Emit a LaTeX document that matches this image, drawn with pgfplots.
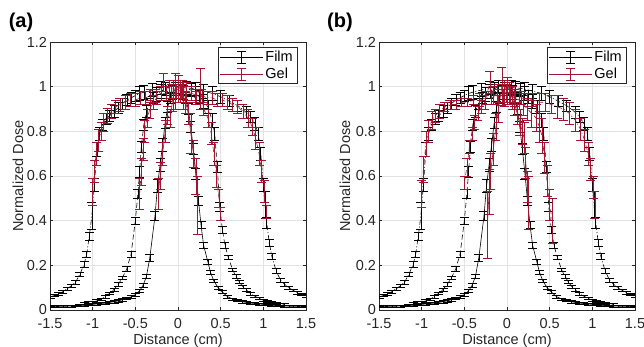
\documentclass[border=0pt]{standalone}
\usepackage{fontspec}
\setmainfont{Liberation Sans}
\usepackage{pgfplots}
\usepackage{pgfplotstable}
\pgfplotsset{compat=1.18}
\definecolor{gelred}{HTML}{A2142F}
\definecolor{axgray}{HTML}{262626}
\definecolor{gridgray}{HTML}{E3E3E3}

\pgfplotstableread{
x y e
-1.50 0.014 0.004
-1.45 0.015 0.004
-1.40 0.016 0.004
-1.35 0.017 0.004
-1.30 0.017 0.004
-1.25 0.018 0.004
-1.20 0.019 0.004
-1.15 0.020 0.004
-1.10 0.021 0.004
-1.05 0.023 0.004
-1.00 0.025 0.005
-0.95 0.027 0.005
-0.90 0.029 0.005
-0.85 0.031 0.005
-0.80 0.034 0.005
-0.75 0.037 0.005
-0.70 0.041 0.005
-0.65 0.046 0.005
-0.60 0.052 0.006
-0.55 0.059 0.006
-0.50 0.069 0.006
-0.45 0.086 0.007
-0.41 0.110 0.008
-0.37 0.150 0.010
-0.33 0.235 0.015
-0.27 0.420 0.020
-0.24 0.555 0.030
-0.21 0.650 0.030
-0.18 0.740 0.030
-0.15 0.840 0.025
-0.12 0.910 0.025
-0.09 0.950 0.025
-0.06 0.975 0.030
-0.03 0.990 0.030
0.00 1.000 0.030
0.03 0.990 0.030
0.06 0.975 0.030
0.09 0.950 0.025
0.12 0.900 0.025
0.15 0.820 0.025
0.18 0.720 0.025
0.21 0.610 0.025
0.24 0.490 0.020
0.27 0.380 0.015
0.30 0.290 0.012
0.35 0.215 0.010
0.38 0.170 0.009
0.42 0.130 0.008
0.47 0.100 0.007
0.52 0.080 0.006
0.58 0.060 0.006
0.64 0.049 0.005
0.70 0.042 0.005
0.75 0.037 0.005
0.80 0.034 0.005
0.85 0.031 0.005
0.90 0.029 0.005
0.95 0.027 0.005
1.00 0.025 0.005
1.05 0.023 0.004
1.10 0.021 0.004
1.15 0.020 0.004
1.20 0.019 0.004
1.25 0.018 0.004
1.30 0.017 0.004
1.35 0.017 0.004
1.40 0.016 0.004
1.45 0.015 0.004
1.50 0.014 0.004
}\FilmSolid

\pgfplotstableread{
x y e
-1.10 0.030 0.005
-1.05 0.033 0.005
-1.00 0.036 0.005
-0.95 0.041 0.005
-0.90 0.048 0.005
-0.85 0.060 0.006
-0.80 0.075 0.006
-0.75 0.092 0.007
-0.70 0.115 0.008
-0.65 0.145 0.008
-0.60 0.185 0.010
-0.55 0.250 0.012
-0.50 0.400 0.015
-0.47 0.520 0.020
-0.45 0.620 0.025
-0.43 0.730 0.025
-0.40 0.830 0.025
-0.37 0.890 0.025
-0.33 0.925 0.025
-0.29 0.950 0.025
-0.25 0.965 0.030
-0.20 0.980 0.030
-0.15 0.990 0.030
-0.10 1.000 0.030
-0.05 1.000 0.030
0.00 1.000 0.030
0.05 0.998 0.030
0.10 0.993 0.030
0.15 0.985 0.030
0.20 0.970 0.030
0.25 0.955 0.030
0.30 0.935 0.030
0.35 0.910 0.030
0.40 0.850 0.030
0.43 0.790 0.030
0.46 0.640 0.025
0.49 0.460 0.020
0.52 0.360 0.015
0.55 0.290 0.012
0.59 0.235 0.010
0.64 0.180 0.008
0.68 0.150 0.008
0.72 0.125 0.007
0.76 0.105 0.007
0.80 0.090 0.006
0.85 0.073 0.006
0.90 0.062 0.005
0.95 0.052 0.005
1.00 0.044 0.005
1.05 0.038 0.005
1.10 0.034 0.005
1.15 0.030 0.005
1.20 0.027 0.005
1.25 0.025 0.005
}\FilmDash

\pgfplotstableread{
x y e
-1.50 0.058 0.005
-1.45 0.065 0.005
-1.40 0.072 0.006
-1.35 0.082 0.006
-1.30 0.095 0.007
-1.25 0.108 0.008
-1.20 0.125 0.009
-1.15 0.160 0.010
-1.10 0.205 0.012
-1.07 0.250 0.015
-1.04 0.330 0.020
-1.01 0.420 0.060
-0.98 0.560 0.030
-0.95 0.720 0.030
-0.92 0.790 0.030
-0.88 0.830 0.025
-0.84 0.855 0.025
-0.80 0.870 0.025
-0.75 0.890 0.025
-0.70 0.905 0.025
-0.65 0.925 0.025
-0.60 0.940 0.025
-0.55 0.950 0.025
-0.50 0.960 0.025
-0.45 0.970 0.030
-0.40 0.975 0.030
-0.30 0.985 0.030
-0.20 0.995 0.030
-0.10 1.000 0.030
0.00 1.000 0.030
0.10 0.995 0.030
0.20 0.990 0.030
0.30 0.980 0.030
0.40 0.970 0.030
0.50 0.955 0.030
0.60 0.935 0.025
0.70 0.915 0.025
0.80 0.885 0.025
0.85 0.865 0.025
0.90 0.835 0.030
0.94 0.790 0.030
0.97 0.700 0.030
1.00 0.560 0.030
1.02 0.470 0.060
1.04 0.390 0.025
1.07 0.300 0.015
1.10 0.240 0.012
1.15 0.175 0.010
1.20 0.135 0.009
1.25 0.115 0.008
1.30 0.100 0.007
1.35 0.088 0.006
1.40 0.078 0.006
1.45 0.070 0.005
1.50 0.064 0.005
}\FilmDD

% ---------- Gel, panel (a)
\pgfplotstableread{
x y e
-0.23 0.52 0.07
-0.21 0.60 0.06
-0.18 0.70 0.05
-0.15 0.80 0.05
-0.12 0.87 0.04
-0.09 0.86 0.04
-0.06 0.95 0.06
-0.03 0.98 0.08
0.00 0.99 0.06
0.03 0.98 0.05
0.06 0.96 0.06
0.09 0.93 0.05
0.12 0.88 0.05
0.15 0.79 0.09
0.18 0.70 0.06
0.21 0.60 0.08
0.23 0.47 0.13
}\GelSolidA

\pgfplotstableread{
x y e
-0.45 0.52 0.07
-0.43 0.62 0.06
-0.41 0.72 0.05
-0.39 0.80 0.05
-0.36 0.86 0.04
-0.33 0.90 0.04
-0.29 0.93 0.03
-0.25 0.95 0.03
-0.20 0.97 0.03
-0.17 1.02 0.04
-0.10 0.99 0.04
-0.05 0.99 0.04
0.00 0.99 0.04
0.05 0.99 0.04
0.10 0.98 0.04
0.15 0.97 0.03
0.20 0.95 0.03
0.26 0.99 0.09
0.30 0.90 0.03
0.35 0.86 0.04
0.39 0.79 0.05
0.42 0.70 0.05
0.45 0.60 0.05
0.48 0.50 0.04
0.50 0.43 0.03
}\GelDashA

\pgfplotstableread{
x y e
-1.00 0.53 0.06
-0.98 0.62 0.05
-0.96 0.70 0.05
-0.93 0.76 0.05
-0.90 0.80 0.04
-0.87 0.84 0.04
-0.83 0.87 0.035
-0.78 0.89 0.03
-0.73 0.91 0.03
-0.68 0.92 0.03
-0.62 0.93 0.03
-0.56 0.94 0.03
-0.50 0.94 0.03
-0.44 0.95 0.03
-0.38 0.95 0.03
-0.32 0.96 0.03
-0.26 0.96 0.03
-0.20 0.97 0.03
-0.14 0.97 0.03
-0.08 0.98 0.03
-0.02 0.98 0.03
0.04 0.98 0.03
0.10 0.97 0.03
0.16 0.97 0.03
0.22 0.96 0.03
0.28 0.96 0.03
0.34 0.95 0.03
0.40 0.95 0.03
0.46 0.94 0.03
0.52 0.94 0.03
0.58 0.93 0.03
0.64 0.92 0.03
0.70 0.91 0.03
0.76 0.89 0.03
0.82 0.86 0.04
0.87 0.82 0.04
0.91 0.77 0.05
0.95 0.70 0.05
0.98 0.62 0.05
1.01 0.53 0.05
1.04 0.44 0.03
}\GelDDA

% ---------- Gel, panel (b)
\pgfplotstableread{
x y e
-0.23 0.38 0.15
-0.21 0.53 0.10
-0.19 0.62 0.08
-0.16 0.72 0.07
-0.13 0.82 0.06
-0.10 0.90 0.06
-0.06 1.00 0.085
-0.03 0.97 0.06
0.00 0.98 0.06
0.03 0.97 0.05
0.06 0.95 0.05
0.09 0.92 0.05
0.12 0.88 0.05
0.15 0.84 0.06
0.18 0.80 0.06
0.20 0.77 0.07
0.22 0.66 0.07
0.24 0.55 0.07
0.25 0.48 0.12
}\GelSolidB

\pgfplotstableread{
x y e
-0.50 0.57 0.03
-0.47 0.64 0.04
-0.44 0.73 0.03
-0.41 0.79 0.03
-0.38 0.84 0.03
-0.34 0.88 0.03
-0.30 0.91 0.03
-0.26 0.93 0.03
-0.20 1.02 0.05
-0.16 0.96 0.04
-0.11 0.97 0.04
-0.06 0.97 0.04
-0.01 0.97 0.04
0.04 0.96 0.04
0.09 0.95 0.04
0.14 0.94 0.04
0.19 0.92 0.05
0.24 0.90 0.05
0.29 0.88 0.06
0.34 0.86 0.06
0.38 0.82 0.07
0.41 0.78 0.08
0.44 0.68 0.07
0.47 0.58 0.07
0.50 0.47 0.07
0.53 0.40 0.10
}\GelDashB

\pgfplotstableread{
x y e
-1.00 0.52 0.06
-0.98 0.63 0.06
-0.95 0.745 0.055
-0.92 0.80 0.05
-0.88 0.85 0.04
-0.84 0.87 0.03
-0.79 0.89 0.03
-0.73 0.91 0.02
-0.67 0.92 0.02
-0.60 0.92 0.02
-0.53 0.93 0.02
-0.46 0.93 0.02
-0.39 0.94 0.02
-0.32 0.94 0.03
-0.25 0.95 0.03
-0.18 0.95 0.03
-0.11 0.96 0.03
-0.04 0.96 0.03
0.03 0.96 0.03
0.10 0.95 0.03
0.17 0.95 0.03
0.24 0.94 0.03
0.31 0.94 0.03
0.38 0.93 0.04
0.45 0.93 0.04
0.52 0.92 0.04
0.59 0.91 0.05
0.66 0.90 0.05
0.73 0.88 0.05
0.80 0.85 0.05
0.86 0.81 0.05
0.91 0.76 0.05
0.95 0.70 0.05
0.98 0.63 0.05
1.01 0.55 0.05
1.03 0.47 0.06
}\GelDDB

\pgfplotsset{
  eb/.style={line width=0.6pt, mark=none,
    error bars/y dir=both, error bars/y explicit,
    error bars/error bar style={line width=0.6pt, solid},
    error bars/error mark options={line width=0.6pt, solid, mark size=4.5pt, rotate=90}},
  film/.style={black, eb},
  gel/.style={gelred, eb},
  dsh/.style={dash pattern=on 5pt off 3pt},
  ddot/.style={dash pattern=on 5pt off 2pt on 1pt off 2pt},
  panel/.style={
    scale only axis, width=256pt, height=268pt,
    xmin=-1.5, xmax=1.5, ymin=0, ymax=1.2,
    xtick={-1.5,-1,-0.5,0,0.5,1,1.5},
    xticklabels={-1.5,-1,-0.5,0,0.5,1,1.5},
    ytick={0,0.2,0.4,0.6,0.8,1,1.2},
    yticklabels={0,0.2,0.4,0.6,0.8,1,1.2},
    tick align=inside, major tick length=3pt,
    tick style={axgray, line width=0.5pt},
    axis line style={axgray, line width=0.6pt},
    grid=major, major grid style={gridgray, line width=0.5pt},
    ticklabel style={font=\fontsize{14.5}{16}\selectfont, text=axgray},
    xticklabel style={yshift=-8pt, inner sep=0pt},
    yticklabel style={xshift=0.5pt, inner ysep=0pt},
    label style={font=\fontsize{14.5}{16}\selectfont, text=axgray},
    xlabel={Distance (cm)},
    ylabel={Normalized Dose},
    x label style={at={(axis description cs:0.5,-0.127)}, anchor=base, inner sep=0pt},
    legend image code/.code={
      \draw[##1] (0pt,0pt) -- (43pt,0pt);
      \draw[##1] (21.5pt,-6pt) -- (21.5pt,6pt);
      \draw[##1] (17pt,-6pt) -- (26pt,-6pt);
      \draw[##1] (17pt,6pt) -- (26pt,6pt);},
    legend style={at={(0.965,0.981)}, anchor=north east, draw=axgray,
      line width=0.5pt, font=\fontsize{14.5}{16}\selectfont,
      inner xsep=2pt, inner ysep=1.5pt, row sep=1pt},
    legend cell align=left,
  },
}

\begin{document}
\begin{tikzpicture}
\useasboundingbox (0pt,0pt) rectangle (644pt,347pt);
\node[font=\bfseries\fontsize{20}{22}\selectfont, text=black] at (21pt,325pt) {(a)};
\node[font=\bfseries\fontsize{20}{22}\selectfont, text=black] at (340pt,325pt) {(b)};

\begin{axis}[panel, at={(50pt,37pt)}, anchor=south west,
  y label style={at={(axis description cs:-0.125,0.5)}, anchor=center}]
\addlegendimage{black, line width=0.6pt}
\addlegendentry{Film}
\addlegendimage{gelred, line width=0.6pt}
\addlegendentry{Gel}
\addplot[film, forget plot] table[x=x, y=y, y error=e] {\FilmSolid};
\addplot[film, dsh, forget plot] table[x=x, y=y, y error=e] {\FilmDash};
\addplot[film, ddot, forget plot] table[x=x, y=y, y error=e] {\FilmDD};
\addplot[gel, forget plot] table[x=x, y=y, y error=e] {\GelSolidA};
\addplot[gel, dsh, forget plot] table[x=x, y=y, y error=e] {\GelDashA};
\addplot[gel, ddot, forget plot] table[x=x, y=y, y error=e] {\GelDDA};
\end{axis}

\begin{axis}[panel, at={(379pt,37pt)}, anchor=south west,
  y label style={at={(axis description cs:-0.133,0.5)}, anchor=center}]
\addlegendimage{black, line width=0.6pt}
\addlegendentry{Film}
\addlegendimage{gelred, line width=0.6pt}
\addlegendentry{Gel}
\addplot[film, forget plot] table[x=x, y=y, y error=e] {\FilmSolid};
\addplot[film, dsh, forget plot] table[x=x, y=y, y error=e] {\FilmDash};
\addplot[film, ddot, forget plot] table[x=x, y=y, y error=e] {\FilmDD};
\addplot[gel, forget plot] table[x=x, y=y, y error=e] {\GelSolidB};
\addplot[gel, dsh, forget plot] table[x=x, y=y, y error=e] {\GelDashB};
\addplot[gel, ddot, forget plot] table[x=x, y=y, y error=e] {\GelDDB};
\end{axis}
\end{tikzpicture}
\end{document}
